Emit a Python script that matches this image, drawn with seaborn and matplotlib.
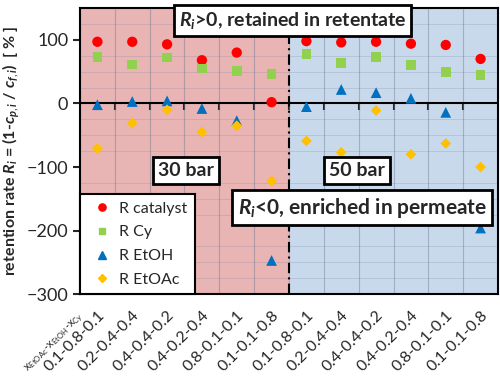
import numpy as np
import pandas as pd
import matplotlib
matplotlib.use("Agg")
import matplotlib.pyplot as plt
from matplotlib.lines import Line2D
import seaborn as sns

# composition x_EtOAc - x_EtOH - x_Cy, first 6 at 30 bar, last 6 at 50 bar
compositions = ["0.1-0.8-0.1", "0.2-0.4-0.4", "0.4-0.4-0.2",
                "0.4-0.2-0.4", "0.8-0.1-0.1", "0.1-0.1-0.8"] * 2

r_catalyst = [97, 97, 93, 68, 80, 2, 98, 96, 97, 94, 92, 70]
r_cy = [73, 61, 72, 55, 51, 46, 78, 64, 73, 60, 49, 45]
r_etoh = [-2, 3, 4, -8, -27, -247, -5, 22, 17, 8, -14, -196]
r_etoac = [-71, -31, -10, -45, -35, -122, -59, -77, -11, -80, -63, -100]

series_names = ["R catalyst", "R Cy", "R EtOH", "R EtOAc"]
colors = {"R catalyst": "#FF0000", "R Cy": "#92D050",
          "R EtOH": "#0070C0", "R EtOAc": "#FFC000"}
markers = {"R catalyst": "o", "R Cy": "s", "R EtOH": "^", "R EtOAc": "D"}
sizes = {"R catalyst": 55, "R Cy": 48, "R EtOH": 60, "R EtOAc": 30}


def main():
    sns.set_style("white")
    plt.rcParams["font.family"] = ["Lato", "DejaVu Sans"]
    plt.rcParams["mathtext.fontset"] = "custom"
    plt.rcParams["mathtext.rm"] = "Lato"
    plt.rcParams["mathtext.it"] = "Lato:italic:bold"
    plt.rcParams["mathtext.bf"] = "Lato:bold"

    pos = np.arange(len(compositions))
    frames = []
    for name, vals in zip(series_names, [r_catalyst, r_cy, r_etoh, r_etoac]):
        frames.append(pd.DataFrame({"pos": pos, "value": vals, "series": name}))
    df = pd.concat(frames, ignore_index=True)

    fig = plt.figure(figsize=(5, 3.85), dpi=100)
    ax = fig.add_axes([0.16, 0.236, 0.836, 0.743])

    # pressure regions
    ax.axvspan(-0.5, 5.5, color="#E8B4B4", zorder=0, lw=0)
    ax.axvspan(5.5, 11.5, color="#C9D9EC", zorder=0, lw=0)

    ax.set_xlim(-0.5, 11.5)
    ax.set_ylim(-300, 150)

    # grid
    ax.set_xticks(np.arange(-0.5, 12, 1), minor=True)
    ax.set_yticks(np.arange(-300, 151, 25), minor=True)
    ax.grid(which="minor", axis="x", color="#6E7C94", alpha=0.45, lw=0.8, zorder=1)
    ax.grid(which="minor", axis="y", color="#6E7C94", alpha=0.22, lw=0.7, zorder=1)
    ax.set_axisbelow(True)

    ax.axhline(0, color="black", lw=1.5, zorder=2)
    ax.axvline(5.5, color="black", lw=1.5, ls=(0, (5, 2, 1, 2)), zorder=2)

    sns.scatterplot(data=df, x="pos", y="value", hue="series", style="series",
                    size="series", palette=colors, markers=markers, sizes=sizes,
                    edgecolor="none", legend=False, ax=ax, zorder=3)

    # ticks on the zero line
    sec = ax.secondary_xaxis(0, transform=ax.transData)
    sec.set_xticks(np.arange(0.5, 11, 1))
    sec.tick_params(direction="out", length=5, width=1.5, labelbottom=False)
    sec.spines["bottom"].set_visible(False)

    ax.set_xticks(pos)
    ax.set_xticklabels(compositions, rotation=45, ha="right",
                       rotation_mode="anchor", fontsize=11.5)
    ax.tick_params(axis="x", which="both", length=0, pad=10)
    ax.set_yticks([-300, -200, -100, 0, 100])
    ax.tick_params(axis="y", which="major", direction="out", length=5,
                   width=1.5, labelsize=13, left=True)
    ax.tick_params(axis="y", which="minor", length=0)
    ax.set_xlabel("")

    ax.annotate(r"x$_{\rm EtOAc}$-x$_{\rm EtOH}$-x$_{\rm Cy}$",
                xy=(-0.42, 0), xycoords=("data", "axes fraction"),
                xytext=(0, -15), textcoords="offset points",
                rotation=45, ha="right", va="center",
                rotation_mode="anchor", fontsize=8)

    ax.set_ylabel(r"retention rate $R_i$ = (1-$c_{p,i}$ / $c_{f,i}$)  [ % ]",
                  fontsize=11.5, fontweight="bold", labelpad=3)

    for s in ax.spines.values():
        s.set_visible(True)
        s.set_color("black")
        s.set_linewidth(1.5)

    box = dict(boxstyle="square,pad=0.25", fc="white", ec="black", lw=2)
    ax.text(5.6, 131, r"$R_i$>0, retained in retentate", ha="center",
            va="center", fontsize=14, fontweight="bold", bbox=box, zorder=5)
    ax.text(2.55, -106, "30 bar", ha="center", va="center", fontsize=14,
            fontweight="bold", bbox=box, zorder=5)
    ax.text(7.45, -105, "50 bar", ha="center", va="center", fontsize=14,
            fontweight="bold", bbox=box, zorder=5)
    ax.text(7.6, -164, r"$R_i$<0, enriched in permeate", ha="center",
            va="center", fontsize=15, fontweight="bold", bbox=box, zorder=5)

    handles = [Line2D([], [], ls="none", marker=markers[n], color=colors[n],
                      markersize=np.sqrt(sizes[n]) * 0.7) for n in series_names]
    leg = ax.legend(handles, series_names, loc="lower left",
                    bbox_to_anchor=(0, 0), borderaxespad=0, fancybox=False,
                    framealpha=1, edgecolor="black", fontsize=11.5,
                    handlelength=1.8, handletextpad=0.2, labelspacing=0.6,
                    borderpad=0.45)
    leg.get_frame().set_linewidth(1.5)
    leg.set_zorder(6)

    fig.savefig("out.png", dpi=100)


if __name__ == "__main__":
    main()
